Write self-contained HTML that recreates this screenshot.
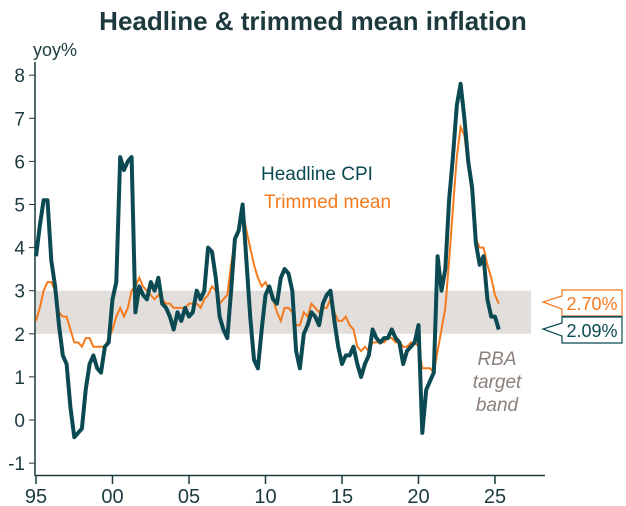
<!DOCTYPE html>
<html><head><meta charset="utf-8"><style>
body{margin:0;background:#fff;}
svg{display:block;font-family:"Liberation Sans",sans-serif;}
</style></head><body>
<svg id="chart" width="626" height="506" viewBox="0 0 626 506" xmlns="http://www.w3.org/2000/svg">
<text x="313" y="30" text-anchor="middle" font-size="26" font-weight="bold" fill="#1c3a3e">Headline &amp; trimmed mean inflation</text>
<text x="33" y="56" font-size="18" fill="#1c3a3e">yoy%</text>
<rect id="band" x="35" width="496" fill="#e2dedb"/>
<g id="yticks"></g><g id="xticks"></g>
<line x1="35" y1="62" x2="35" y2="476" stroke="#1c3a3e" stroke-width="1.5"/>
<line x1="35" y1="475.5" x2="545" y2="475.5" stroke="#1c3a3e" stroke-width="1.5"/>
<path id="trim" fill="none" stroke="#f57a1e" stroke-width="2"/>
<path id="head" fill="none" stroke="#0b4a52" stroke-width="4" stroke-linejoin="round"/>
<text x="261" y="180" font-size="19" fill="#0b4a52">Headline CPI</text>
<text x="264" y="208" font-size="19" fill="#f57a1e">Trimmed mean</text>
<text font-size="19" font-style="italic" fill="#8b817a" text-anchor="middle"><tspan x="497" y="365">RBA</tspan><tspan x="497" y="388">target</tspan><tspan x="497" y="411">band</tspan></text>
<g>
<path d="M562,290 H622 V316 H562 V309 L543,302 L562,296 Z" fill="#fff" stroke="#f57a1e" stroke-width="1.2"/>
<text x="592" y="310" text-anchor="middle" font-size="18" fill="#f57a1e">2.70%</text>
</g>
<g>
<path d="M562,317 H622 V343 H562 V336 L543,329 L562,323 Z" fill="#fff" stroke="#0b4a52" stroke-width="1.2"/>
<text x="592" y="337" text-anchor="middle" font-size="18" fill="#0b4a52">2.09%</text>
</g>
<line x1="562" y1="316.5" x2="622" y2="316.5" stroke="#0b4a52" stroke-width="1.2"/>
</svg>
<script>
const startYear = 1995;
const headline = [3.8,4.5,5.1,5.1, 3.7,3.1,2.2,1.5, 1.3,0.3,-0.4,-0.3, -0.2,0.7,1.3,1.5, 1.2,1.1,1.7,1.8, 2.8,3.2,6.1,5.8, 6.0,6.1,2.5,3.1, 2.9,2.8,3.2,3.0, 3.3,2.7,2.6,2.4, 2.1,2.5,2.3,2.6, 2.4,2.5,3.0,2.8, 3.0,4.0,3.9,3.3, 2.4,2.1,1.9,3.0, 4.2,4.4,5.0,3.7, 2.4,1.4,1.2,2.1, 2.9,3.1,2.8,2.7, 3.3,3.5,3.4,3.0, 1.6,1.2,2.0,2.2, 2.5,2.4,2.2,2.7, 2.9,3.0,2.3,1.7, 1.3,1.5,1.5,1.7, 1.3,1.0,1.3,1.5, 2.1,1.9,1.8,1.9, 1.9,2.1,1.9,1.8, 1.3,1.6,1.7,1.8, 2.2,-0.3,0.7,0.9, 1.1,3.8,3.0,3.5, 5.1,6.1,7.3,7.8, 7.0,6.0,5.4,4.1, 3.6,3.8,2.8,2.4, 2.4,2.1];
const trimmed = [2.3,2.6,3.0,3.2, 3.2,3.0,2.5,2.4, 2.4,2.1,1.8,1.8, 1.7,1.9,1.9,1.7, 1.7,1.7,1.7,1.9, 2.1,2.4,2.6,2.4, 2.6,3.0,3.1,3.3, 3.1,3.0,2.9,2.8, 2.9,2.8,2.7,2.7, 2.6,2.6,2.6,2.6, 2.7,2.7,2.7,2.6, 2.8,2.9,3.1,3.0, 2.7,2.8,2.9,3.6, 4.2,4.4,4.9,4.4, 4.0,3.6,3.3,3.1, 3.2,3.0,2.8,2.5, 2.3,2.6,2.6,2.5, 2.2,2.2,2.5,2.4, 2.7,2.6,2.5,2.6, 2.6,2.8,2.5,2.3, 2.3,2.4,2.2,2.1, 1.7,1.6,1.7,1.6, 1.8,1.8,1.8,1.8, 1.9,1.9,1.8,1.8, 1.7,1.7,1.8,1.8, 1.7,1.2,1.2,1.2, 1.1,1.6,2.1,2.6, 3.7,4.9,6.1,6.8, 6.6,5.9,5.2,4.2, 4.0,4.0,3.6,3.3, 2.9,2.7];
const yTicks = [-1,0,1,2,3,4,5,6,7,8];
const xTickYears = [1995,2000,2005,2010,2015,2020,2025];
const xTickLabels = ["95","00","05","10","15","20","25"];
const bandLow = 2, bandHigh = 3;

const X = yr => 36 + (yr - 1995) * 15.3;
const Y = v => 420 - v * 43.1;
const NS = "http://www.w3.org/2000/svg";
function mk(tag, attrs, parent){const e=document.createElementNS(NS,tag);for(const k in attrs)e.setAttribute(k,attrs[k]);parent.appendChild(e);return e;}

const band = document.getElementById('band');
band.setAttribute('y', Y(bandHigh));
band.setAttribute('height', Y(bandLow) - Y(bandHigh));

const yg = document.getElementById('yticks');
yTicks.forEach(v=>{
  const l = mk('line',{x1:29,x2:35,y1:Y(v),y2:Y(v),stroke:'#1c3a3e','stroke-width':1},yg);
  
  
  const t = mk('text',{x:25,y:Y(v)+7,'text-anchor':'end','font-size':19,fill:'#1c3a3e'},yg);
  t.textContent = v;
  
  
});
const xg = document.getElementById('xticks');
xTickYears.forEach((yr,i)=>{
  const l = mk('line',{x1:X(yr),x2:X(yr),y1:476,y2:484,stroke:'#1c3a3e','stroke-width':1.5},xg);
  
  
  const t = mk('text',{x:X(yr),y:503,'text-anchor':'middle','font-size':20,fill:'#1c3a3e'},xg);
  t.textContent = xTickLabels[i];
  
  
});
function path(arr){return arr.map((v,i)=>(i?'L':'M')+X(startYear+i/4).toFixed(1)+','+Y(v).toFixed(1)).join(' ');}
document.getElementById('head').setAttribute('d', path(headline));
document.getElementById('trim').setAttribute('d', path(trimmed));
</script>
</body></html>
